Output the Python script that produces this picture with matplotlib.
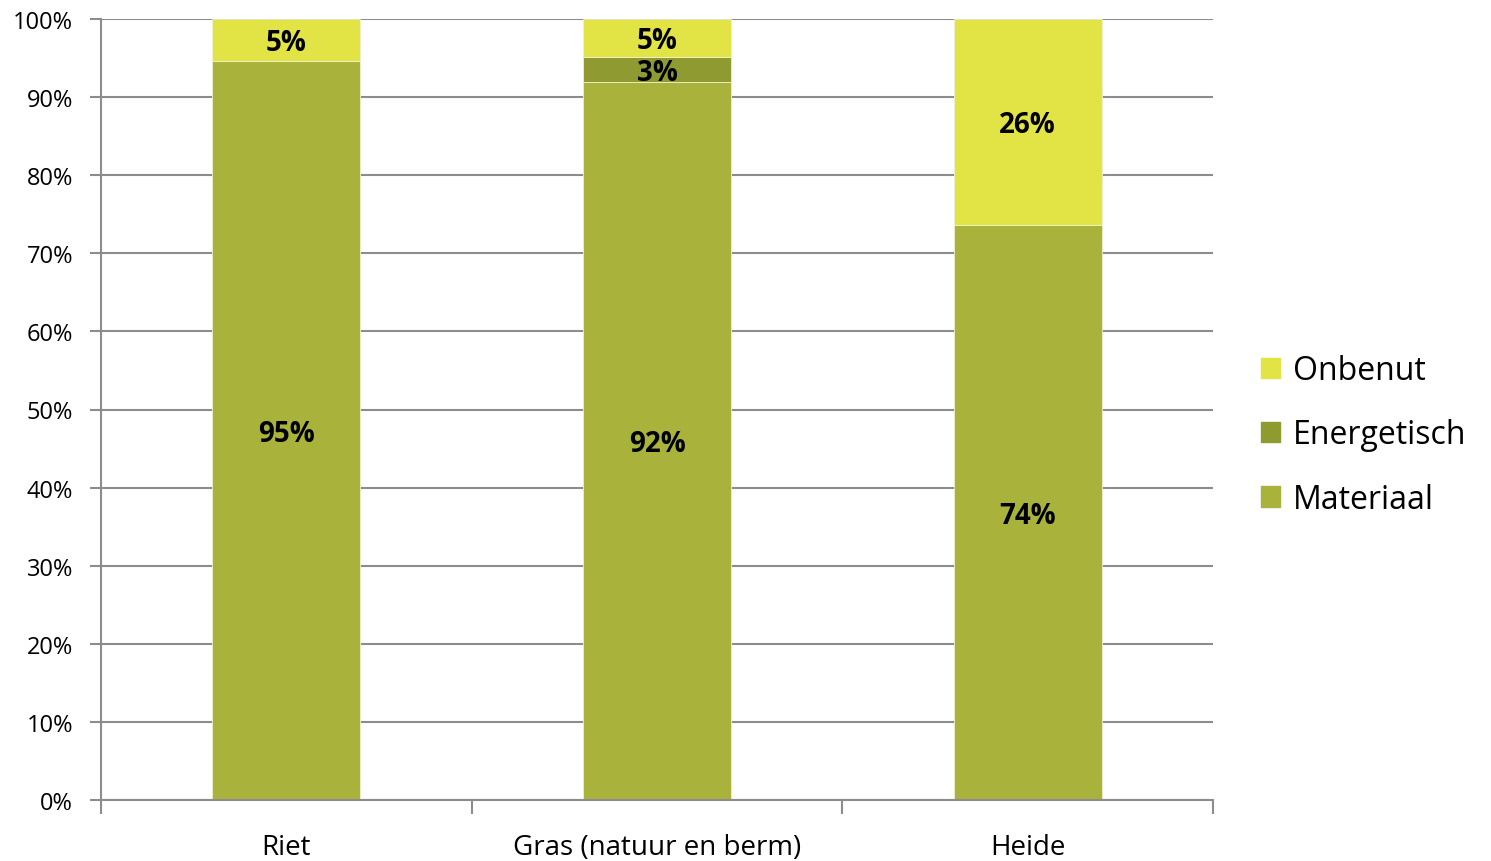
import numpy as np
import matplotlib.pyplot as plt
from matplotlib.patches import Patch

plt.rcParams['font.family'] = ['Open Sans', 'DejaVu Sans']

# --- data: share of biomass use per source (%) ---
categories = ["Riet", "Gras (natuur en berm)", "Heide"]
materiaal = [94.6, 91.9, 73.6]
energetisch = [0.0, 3.2, 0.0]
onbenut = [5.4, 4.9, 26.4]

series = [("Materiaal", materiaal, "#a9b23a"),
          ("Energetisch", energetisch, "#8f9b30"),
          ("Onbenut", onbenut, "#e2e446")]

grid_col = "#8c8c8c"

fig = plt.figure(figsize=(14.91, 8.62), dpi=100)
ax = fig.add_axes([101/1491, 61/862, 1112/1491, 781/862])

x = np.arange(len(categories))
bottom = np.zeros(len(categories))
for name, vals, col in series:
    vals = np.array(vals)
    ax.bar(x, vals, width=0.4, bottom=bottom, color=col, edgecolor="#f0f0d0",
           linewidth=0.6, zorder=2)
    for xi, b, v in zip(x, bottom, vals):
        if v > 0:
            ax.annotate(f"{v:.0f}%", (xi, b + v / 2), xytext=(0, -2),
                        textcoords="offset points", ha="center", va="center",
                        fontsize=20, fontweight="bold", color="black", zorder=3)
    bottom += vals

ax.set_xlim(-0.5, 2.5)
ax.set_ylim(0, 100)
ax.set_yticks(np.arange(0, 101, 10))
ax.set_yticklabels([f"{v}%" for v in range(0, 101, 10)], fontsize=17)
ax.yaxis.grid(True, color=grid_col, linewidth=1.5, zorder=0)
ax.set_axisbelow(True)

# category labels centred, ticks on boundaries
ax.set_xticks([-0.5, 0.5, 1.5, 2.5])
ax.set_xticklabels([])
ax.set_xticks(x, minor=True)
ax.set_xticklabels(categories, minor=True, fontsize=20)
ax.tick_params(axis="x", which="minor", length=0, pad=24)
ax.tick_params(axis="x", which="major", length=10, width=1.5, color=grid_col)
ax.tick_params(axis="y", length=8, width=1.5, color=grid_col, pad=12)

for s in ["top", "right"]:
    ax.spines[s].set_visible(False)
for s in ["left", "bottom"]:
    ax.spines[s].set_color(grid_col)
    ax.spines[s].set_linewidth(1.5)

handles = [Patch(color=col, label=name) for name, _, col in reversed(series)]
fig.legend(handles=handles, loc="center left", bbox_to_anchor=(1232/1491, 1 - 436/862),
           frameon=False, fontsize=23, handlelength=0.6, handleheight=0.6,
           handletextpad=0.4, labelspacing=0.98)

fig.savefig("out.png", dpi=100)
